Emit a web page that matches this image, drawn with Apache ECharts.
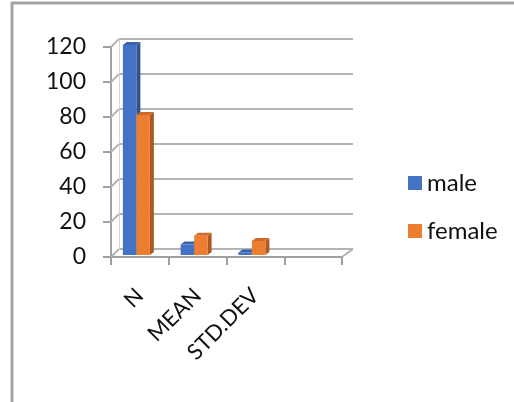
<!DOCTYPE html>
<html>
<head>
<meta charset="utf-8">
<script src="https://cdn.jsdelivr.net/npm/echarts@6/dist/echarts.min.js"></script>
<style>
  html, body { margin: 0; padding: 0; background: #ffffff; }
  #chart { width: 514px; height: 402px; }
</style>
</head>
<body>
<div id="chart"></div>
<script>
// Summary statistics by gender
const categories = ['N', 'MEAN', 'STD.DEV', ''];
const maleValues = [120, 6, 1.5, null];
const femaleValues = [80, 11, 8, null];
const yTicks = [0, 20, 40, 60, 80, 100, 120];

// Pseudo-3D look: wall depth and bar depth offsets (pixels)
const WALL_DX = 8, WALL_DY = -8;
const BAR_DX = 4, BAR_DY = -3;
const BAR_W = 13.5;
const BAR_SHIFT_X = -3.5, BAR_SHIFT_Y = -2;

const FONT = 'Lato, "Open Sans", sans-serif';

function shade(hex, k) {
  const n = parseInt(hex.slice(1), 16);
  const r = Math.round(((n >> 16) & 255) * k);
  const g = Math.round(((n >> 8) & 255) * k);
  const b = Math.round((n & 255) * k);
  return 'rgb(' + r + ',' + g + ',' + b + ')';
}

function barRenderer(color, slot) {
  return function (params, api) {
    const v = api.value(1);
    if (v == null || isNaN(v)) return null;
    const top = api.coord([api.value(0), v]);
    const base = api.coord([api.value(0), 0]);
    const x0 = top[0] + BAR_SHIFT_X + (slot === 0 ? -BAR_W : 0);
    const x1 = x0 + BAR_W;
    const yT = top[1] + BAR_SHIFT_Y;
    const yB = base[1] + BAR_SHIFT_Y;
    return {
      type: 'group',
      children: [
        { type: 'polygon', shape: { points: [[x1, yB], [x1 + BAR_DX, yB + BAR_DY], [x1 + BAR_DX, yT + BAR_DY], [x1, yT]] },
          style: { fill: shade(color, 0.72) } },
        { type: 'polygon', shape: { points: [[x0, yT], [x1, yT], [x1 + BAR_DX, yT + BAR_DY], [x0 + BAR_DX, yT + BAR_DY]] },
          style: { fill: shade(color, 0.86) } },
        { type: 'rect', shape: { x: x0, y: yT, width: BAR_W, height: yB - yT },
          style: { fill: color } }
      ]
    };
  };
}

const chart = echarts.init(document.getElementById('chart'), null, { renderer: 'canvas' });

chart.setOption({
  animation: false,
  backgroundColor: '#ffffff',
  color: ['#4472c4', '#ed7d31'],
  graphic: [{
    type: 'polyline',
    shape: { points: [[12, 402], [12, 3], [514, 3]] },
    style: { stroke: '#a3a3a3', lineWidth: 3, fill: null },
    z: 100
  }],
  legend: {
    data: [{ name: 'male', icon: 'rect' }, { name: 'female', icon: 'rect' }],
    orient: 'vertical',
    left: 403,
    top: 166,
    itemWidth: 14,
    itemHeight: 14,
    itemGap: 24,
    selectedMode: false,
    textStyle: { fontSize: 24, fontFamily: FONT, color: '#111111' }
  },
  grid: [
    { left: 111, top: 47, width: 231, height: 210, outerBoundsMode: 'none' },
    { left: 119, top: 39, width: 234, height: 210, outerBoundsMode: 'none' }
  ],
  xAxis: [
    {
      gridIndex: 0, type: 'category', data: categories, boundaryGap: true,
      axisLine: { show: true, lineStyle: { color: '#a0a0a0', width: 2 } },
      axisTick: { show: true, length: 8, interval: 0, lineStyle: { color: '#a0a0a0', width: 2 } },
      axisLabel: { interval: 0, rotate: 45, margin: 35, fontSize: 22, fontFamily: FONT, color: '#111111' },
      splitLine: { show: false }
    },
    {
      gridIndex: 1, type: 'category', data: categories, boundaryGap: true,
      axisLine: { show: false }, axisTick: { show: false }, axisLabel: { show: false }, splitLine: { show: false }
    }
  ],
  yAxis: [
    {
      gridIndex: 0, type: 'value', min: 0, max: 120, interval: 20,
      axisLine: { show: true, lineStyle: { color: '#a0a0a0', width: 2 } },
      axisTick: { show: true, length: 8, lineStyle: { color: '#a0a0a0', width: 2 } },
      axisLabel: { margin: 25, fontSize: 23, fontFamily: FONT, color: '#111111' },
      splitLine: { show: false }
    },
    {
      gridIndex: 1, type: 'value', min: 0, max: 120, interval: 20,
      axisLine: { show: true, lineStyle: { color: '#d4d4d4', width: 1 } },
      axisTick: { show: false }, axisLabel: { show: false },
      splitLine: { show: true, lineStyle: { color: '#b4b4b4', width: 2 } }
    }
  ],
  series: [
    {
      // side-wall and floor edges joining the front axis to the back wall
      type: 'custom', name: 'frame', xAxisIndex: 0, yAxisIndex: 0, silent: true, z: 1,
      data: yTicks.map(v => [0, v]),
      renderItem: function (params, api) {
        const cs = params.coordSys;
        const y = api.coord([0, api.value(1)])[1];
        const children = [{
          type: 'line', shape: { x1: cs.x, y1: y, x2: cs.x + WALL_DX, y2: y + WALL_DY },
          style: { stroke: '#b4b4b4', lineWidth: 2 }
        }];
        if (api.value(1) === 0) {
          children.push({
            type: 'line', shape: { x1: cs.x + cs.width, y1: y, x2: cs.x + cs.width + WALL_DX + 3, y2: y + WALL_DY },
            style: { stroke: '#b4b4b4', lineWidth: 2 }
          });
        }
        return { type: 'group', children: children };
      }
    },
    {
      type: 'custom', name: 'male', xAxisIndex: 0, yAxisIndex: 0, z: 3,
      itemStyle: { color: '#4472c4' },
      data: maleValues.map((v, i) => [i, v]),
      renderItem: barRenderer('#4472c4', 0)
    },
    {
      type: 'custom', name: 'female', xAxisIndex: 0, yAxisIndex: 0, z: 3,
      itemStyle: { color: '#ed7d31' },
      data: femaleValues.map((v, i) => [i, v]),
      renderItem: barRenderer('#ed7d31', 1)
    }
  ]
});
</script>
</body>
</html>
